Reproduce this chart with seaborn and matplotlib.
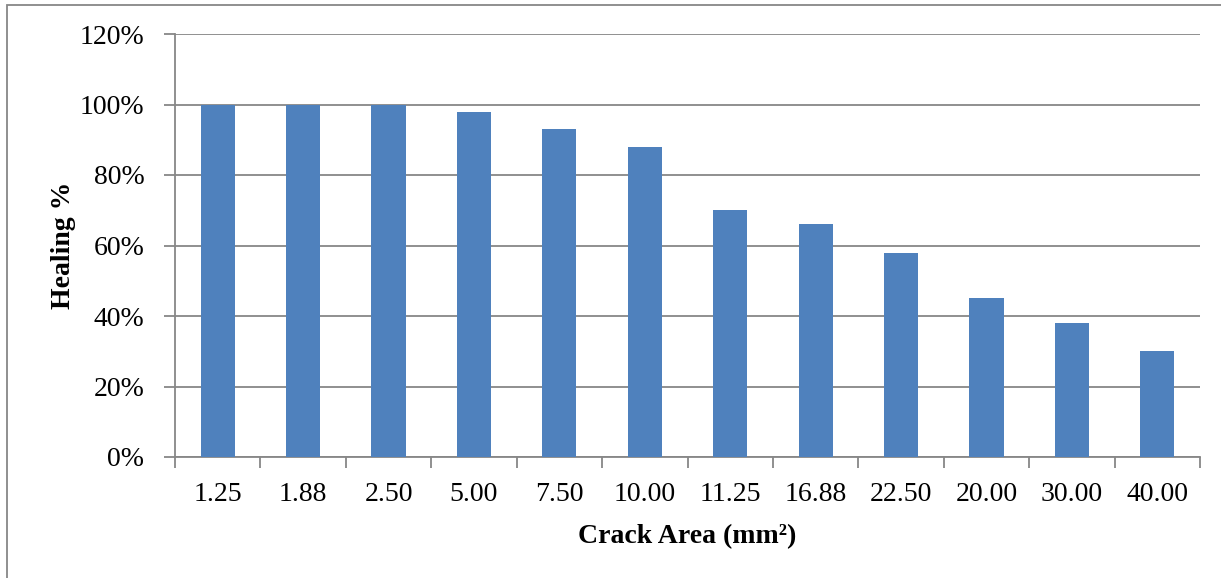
import matplotlib
matplotlib.use("Agg")
import matplotlib.pyplot as plt
import seaborn as sns
import pandas as pd
import numpy as np
from matplotlib.ticker import FuncFormatter, MultipleLocator
from matplotlib.patches import Rectangle

categories = ["1.25", "1.88", "2.50", "5.00", "7.50", "10.00", "11.25", "16.88", "22.50", "20.00", "30.00", "40.00"]
healing = [100, 100, 100, 98, 93, 88, 70, 66, 58, 45, 38, 30]

df = pd.DataFrame({"area": categories, "healing": healing})

sns.set_style("white")
plt.rcParams['font.family'] = ['Liberation Serif', 'DejaVu Serif']
plt.rcParams['text.color'] = 'black'
plt.rcParams['axes.labelcolor'] = 'black'
plt.rcParams['xtick.labelcolor'] = 'black'
plt.rcParams['ytick.labelcolor'] = 'black'

fig = plt.figure(figsize=(12.21, 5.78), dpi=100)
ax = fig.add_axes([175/1221, 1 - 457/578, (1200-175)/1221, (457-34)/578])

sns.barplot(data=df, x="area", y="healing", color="#4F81BD", saturation=1,
            width=0.4, ax=ax, edgecolor="#4F81BD", linewidth=0, zorder=3)

ax.set_xlim(-0.5, len(categories) - 0.5)
ax.set_ylim(0, 120)
ax.yaxis.set_major_locator(MultipleLocator(20))
ax.yaxis.set_major_formatter(FuncFormatter(lambda v, p: f"{int(v)}%"))
ax.grid(axis="y", color="#878787", linewidth=1.3, zorder=0)
ax.set_axisbelow(True)

for s in ["top", "right"]:
    ax.spines[s].set_visible(False)
for s in ["left", "bottom"]:
    ax.spines[s].set_color("#878787")
    ax.spines[s].set_linewidth(1.3)

ax.tick_params(axis="y", which="major", direction="out", length=8, width=1.3,
               color="#878787", labelsize=20, pad=14, left=True, labelcolor="black")
ax.set_xticks(np.arange(len(categories)))
ax.set_xticklabels(categories)
ax.tick_params(axis="x", which="major", length=0, labelsize=20, pad=18, labelcolor="black")
ax.set_xticks(np.arange(-0.5, len(categories) + 0.5, 1), minor=True)
ax.tick_params(axis="x", which="minor", direction="out", length=8, width=1.3,
               color="#878787", bottom=True)

ax.set_ylabel("Healing %", fontsize=20, fontweight="bold", labelpad=3, color="black")
ax.set_xlabel("Crack Area (mm²)", fontsize=20, fontweight="bold", labelpad=12, color="black")

fig.patches.append(Rectangle((7/1221, -0.1), 1.2, 1 - 5/578 + 0.1,
                             transform=fig.transFigure, fill=False,
                             edgecolor="#878787", linewidth=1.3))

fig.savefig("out.png", dpi=100)
